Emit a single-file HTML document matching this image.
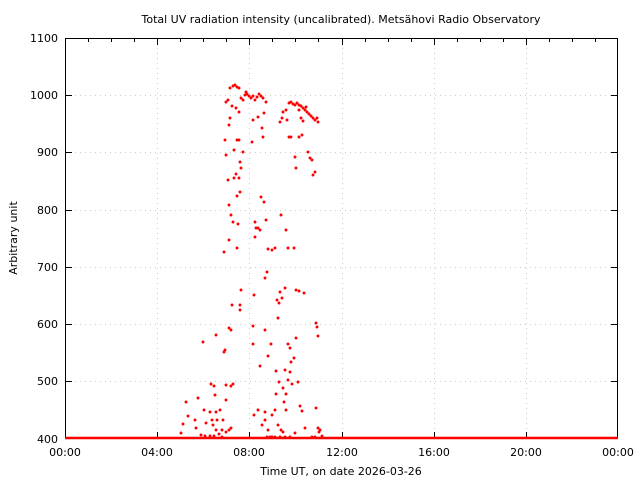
<!DOCTYPE html>
<html><head><meta charset="utf-8"><style>
body{margin:0;background:#fff}
svg text{font-family:"DejaVu Sans","Liberation Sans",sans-serif;font-size:11px;fill:#000}
</style></head><body>
<svg width="640" height="480" viewBox="0 0 640 480" xmlns="http://www.w3.org/2000/svg">
<rect width="640" height="480" fill="#fff"/>
<g stroke="#ccc" stroke-width="1" stroke-dasharray="1,4">
<path d="M157.5 38V438M249.5 38V438M342.5 38V438M434.5 38V438M526.5 38V438"/>
<path d="M65 95.5H618M65 152.5H618M65 210.5H618M65 267.5H618M65 324.5H618M65 381.5H618"/>
</g>
<g stroke="#000" stroke-width="1">
<path d="M88.5 38v4M111.5 38v4M134.5 38v4M180.5 38v4M203.5 38v4M226.5 38v4M272.5 38v4M295.5 38v4M318.5 38v4M365.5 38v4M388.5 38v4M411.5 38v4M457.5 38v4M480.5 38v4M503.5 38v4M549.5 38v4M572.5 38v4M595.5 38v4"/>
<path d="M157.5 38v7M249.5 38v7M342.5 38v7M434.5 38v7M526.5 38v7M157.5 439v-7M249.5 439v-7M342.5 439v-7M434.5 439v-7M526.5 439v-7"/>
<path d="M65 95.5h7M65 152.5h7M65 210.5h7M65 267.5h7M65 324.5h7M65 381.5h7M618 95.5h-7M618 152.5h-7M618 210.5h-7M618 267.5h-7M618 324.5h-7M618 381.5h-7"/>
<rect x="65.5" y="38.5" width="552" height="400" fill="none"/>
</g>
<path d="M65 438H618" stroke="#f00" stroke-width="2.5"/>
<path fill="none" stroke="#f00" stroke-width="2.9" stroke-linecap="round" d="
M235 85h0M237 87h0M233 86h0M239 88h0M230 88h0M228 100h0M226 102h0M232 106h0M236 108h0M239 112h0M241 98h0M243 100h0M245 95h0M247 94h0M249 96h0M251 98h0M246 92h0M253 96h0M255 100h0M257 97h0M259 94h0M261 96h0M263 98h0M230 118h0M229 125h0M237 140h0M239 140h0M225 140h0M226 155h0M234 150h0M243 152h0M240 162h0M241 168h0M236 174h0M228 180h0M234 178h0M239 178h0M240 192h0M237 196h0M229 205h0M231 215h0M233 222h0M238 224h0M229 240h0M237 248h0M224 252h0M241 290h0M240 305h0M240 310h0M232 305h0M231 330h0M229 328h0M225 350h0M224 352h0M226 385h0M231 386h0M233 384h0M211 384h0M214 386h0M203 342h0M216 335h0M186 402h0M198 398h0M204 410h0M210 412h0M216 412h0M215 395h0M220 410h0M226 400h0M223 420h0M217 420h0M213 425h0M229 430h0M222 430h0M226 432h0M231 428h0M188 416h0M206 423h0M196 428h0M201 435h0M210 436h0M219 434h0M214 436h0M181 433h0M183 424h0M195 420h0M212 420h0M216 430h0M222 437h0M205 436h0
M264 113h0M266 102h0M258 117h0M262 128h0M263 137h0M252 142h0M253 120h0M261 197h0M264 202h0M255 222h0M256 228h0M258 228h0M260 230h0M255 237h0M266 220h0M268 249h0M265 278h0M267 272h0M272 250h0M275 248h0M277 300h0M279 303h0M280 292h0M254 295h0M253 326h0M253 344h0M260 366h0M265 330h0M268 356h0M271 344h0M276 371h0M279 382h0M276 394h0M258 410h0M254 415h0M265 420h0M268 430h0M272 415h0M275 410h0M270 437h0M272 437h0M275 437h0M262 425h0M265 412h0M278 425h0M280 437h0M283 432h0M285 437h0M267 437h0
M289 103h0M291 102h0M293 104h0M295 105h0M297 103h0M299 105h0M301 106h0M303 108h0M305 110h0M307 112h0M309 114h0M311 116h0M313 118h0M315 120h0M317 118h0M318 122h0M283 112h0M286 110h0M282 118h0M287 120h0M280 122h0M299 110h0M301 118h0M303 121h0M306 107h0M302 135h0M299 137h0M291 137h0M308 152h0M310 158h0M312 160h0M315 172h0M313 175h0M295 157h0M296 168h0M289 137h0M281 215h0M286 230h0M288 248h0M294 248h0M285 288h0M282 298h0M278 318h0M288 344h0M290 348h0M296 338h0M291 362h0M294 358h0M296 290h0M299 291h0M304 293h0M316 323h0M317 327h0M318 336h0M285 370h0M290 372h0M288 380h0M283 388h0M286 394h0M292 384h0M298 382h0M300 406h0M302 411h0M316 408h0M318 428h0M320 430h0M319 432h0M322 436h0M290 437h0M295 433h0M284 402h0M286 410h0M281 430h0M305 428h0M312 437h0M315 437h0"/>
<g text-anchor="end">
<text x="58" y="42">1100</text><text x="58" y="99">1000</text><text x="58" y="156">900</text><text x="58" y="214">800</text><text x="58" y="271">700</text><text x="58" y="328">600</text><text x="58" y="385">500</text><text x="58" y="443">400</text>
</g>
<g text-anchor="middle">
<text x="65" y="456">00:00</text><text x="157" y="456">04:00</text><text x="249" y="456">08:00</text><text x="342" y="456">12:00</text><text x="434" y="456">16:00</text><text x="526" y="456">20:00</text><text x="618" y="456">00:00</text>
<text x="341" y="475">Time UT, on date 2026-03-26</text>
<text x="341" y="23">Total UV radiation intensity (uncalibrated). Metsähovi Radio Observatory</text>
<text transform="translate(17,238) rotate(-90)">Arbitrary unit</text>
</g>
</svg>
</body></html>
